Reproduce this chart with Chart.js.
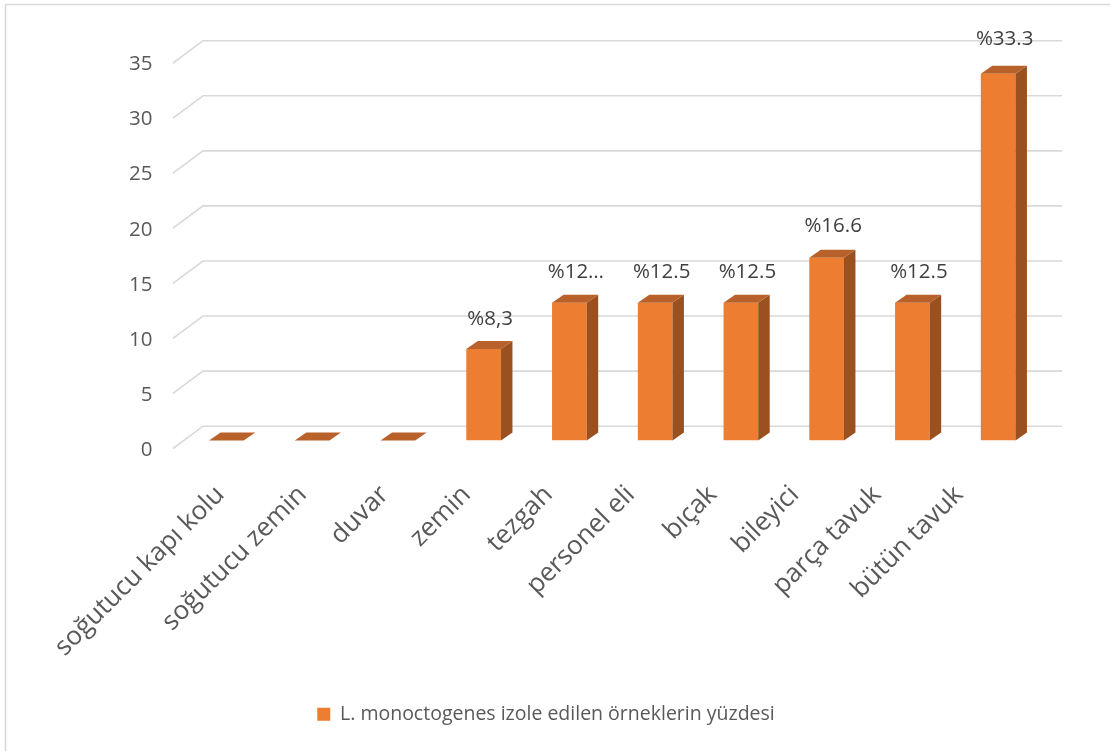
<!DOCTYPE html>
<html>
<head>
<meta charset="utf-8">
<script src="https://cdn.jsdelivr.net/npm/chart.js@4.4.1/dist/chart.umd.min.js"></script>
<style>
  html, body { margin: 0; padding: 0; background: #fff; }
</style>
</head>
<body>
<canvas id="chart" width="1110" height="751"></canvas>
<script>
const categories  = ['soğutucu kapı kolu', 'soğutucu zemin', 'duvar', 'zemin', 'tezgah',
                     'personel eli', 'bıçak', 'bileyici', 'parça tavuk', 'bütün tavuk'];
const percentages = [0, 0, 0, 8.3, 12.5, 12.5, 12.5, 16.6, 12.5, 33.3];
const valueLabels = ['', '', '', '%8,3', '%12…', '%12.5', '%12.5', '%16.6', '%12.5', '%33.3'];
const yTicks      = [0, 5, 10, 15, 20, 25, 30, 35];
const seriesName  = 'L. monoctogenes izole edilen örneklerin yüzdesi';

const FONT       = '"Open Sans", "Noto Sans", sans-serif';
const FRONT      = '#ED7D31';
const TOP_FACE   = '#B9612A';
const SIDE_FACE  = '#9A511F';
const GRID       = '#D9D9D9';
const TEXT       = '#595959';
const DEPTH      = { dx: 11.5, dy: -8 };     // bar extrusion
const FLOOR_FRONT = { dx: -10.5, dy: 8 };    // front edge of the floor relative to the bar plane
const FLOOR_BACK  = { dx: 19.5, dy: -14.3 }; // back wall relative to the bar plane

// light frame round the chart
const frame = {
  id: 'frame',
  beforeDraw(chart) {
    const c = chart.ctx;
    c.save();
    c.fillStyle = '#fff';
    c.fillRect(0, 0, chart.width, chart.height);
    c.strokeStyle = GRID;
    c.lineWidth = 1.5;
    c.beginPath();
    c.moveTo(5.5, chart.height + 2);
    c.lineTo(5.5, 4.5);
    c.lineTo(chart.width + 2, 4.5);
    c.stroke();
    c.restore();
  }
};

// gridlines on the floor edge + back wall
const wallGrid = {
  id: 'wallGrid',
  beforeDatasetsDraw(chart) {
    const { ctx, chartArea: a, scales: { y } } = chart;
    ctx.save();
    ctx.strokeStyle = GRID;
    ctx.lineWidth = 1.6;
    y.ticks.forEach(t => {
      const py = y.getPixelForValue(t.value);
      ctx.beginPath();
      ctx.moveTo(a.left + FLOOR_FRONT.dx, py + FLOOR_FRONT.dy);
      ctx.lineTo(a.left + FLOOR_BACK.dx, py + FLOOR_BACK.dy);
      ctx.lineTo(a.right + FLOOR_BACK.dx + 1.5, py + FLOOR_BACK.dy);
      ctx.stroke();
    });
    ctx.restore();
  }
};

// side and top faces of each bar, plus the value labels
const bars3d = {
  id: 'bars3d',
  afterDatasetsDraw(chart) {
    const { ctx } = chart;
    const { dx, dy } = DEPTH;
    ctx.save();
    chart.getDatasetMeta(0).data.forEach((bar, i) => {
      const { x, y, base, width } = bar.getProps(['x', 'y', 'base', 'width'], true);
      const l = x - width / 2, r = x + width / 2;

      ctx.fillStyle = SIDE_FACE;
      ctx.beginPath();
      ctx.moveTo(r, y);
      ctx.lineTo(r + dx, y + dy);
      ctx.lineTo(r + dx, base + dy);
      ctx.lineTo(r, base);
      ctx.closePath();
      ctx.fill();

      ctx.fillStyle = TOP_FACE;
      ctx.beginPath();
      ctx.moveTo(l, y);
      ctx.lineTo(l + dx, y + dy);
      ctx.lineTo(r + dx, y + dy);
      ctx.lineTo(r, y);
      ctx.closePath();
      ctx.fill();

      if (valueLabels[i]) {
        ctx.font = `20.5px ${FONT}`;
        ctx.fillStyle = '#404040';
        ctx.textAlign = 'center';
        ctx.textBaseline = 'middle';
        ctx.fillText(valueLabels[i], x + 6.5, y - (28 + 0.2 * percentages[i]));
      }
    });
    ctx.restore();
  }
};

// slanted category names along the front of the floor
const categoryLabels = {
  id: 'categoryLabels',
  afterDraw(chart) {
    const { ctx, scales: { x } } = chart;
    const x0 = x.getPixelForTick(0);
    ctx.save();
    ctx.font = `26px ${FONT}`;
    ctx.fillStyle = TEXT;
    ctx.textAlign = 'right';
    ctx.textBaseline = 'middle';
    categories.forEach((name, i) => {
      const px = x0 - 6 + (x.getPixelForTick(i) - x0) * 0.957;
      ctx.save();
      ctx.translate(px, chart.chartArea.bottom + 50);
      ctx.rotate(-Math.PI / 4);
      ctx.fillText(name, 0, 0);
      ctx.restore();
    });
    ctx.restore();
  }
};

new Chart(document.getElementById('chart'), {
  type: 'bar',
  data: {
    labels: categories,
    datasets: [{
      label: seriesName,
      data: percentages,
      backgroundColor: FRONT,
      barPercentage: 0.404,
      categoryPercentage: 1
    }]
  },
  options: {
    responsive: false,
    animation: false,
    layout: { padding: { top: 55, right: 69, left: 51, bottom: 17 } },
    plugins: {
      legend: {
        position: 'bottom',
        labels: {
          font: { family: FONT, size: 19.5 },
          color: TEXT,
          boxWidth: 13,
          boxHeight: 13,
          padding: 10
        }
      },
      tooltip: { enabled: false }
    },
    scales: {
      x: {
        grid: { display: false, drawTicks: false },
        border: { display: false },
        ticks: { display: false },
        afterFit: s => { s.height = 254; }
      },
      y: {
        min: 0,
        max: 35,
        grid: { display: false, drawTicks: false },
        border: { display: false },
        ticks: { font: { family: FONT, size: 20.5 }, color: TEXT, padding: 31, labelOffset: 9.5 },
        afterBuildTicks: s => { s.ticks = yTicks.map(v => ({ value: v })); },
        afterFit: s => { s.width = 132.5; }
      }
    }
  },
  plugins: [frame, wallGrid, bars3d, categoryLabels]
});
</script>
</body>
</html>
